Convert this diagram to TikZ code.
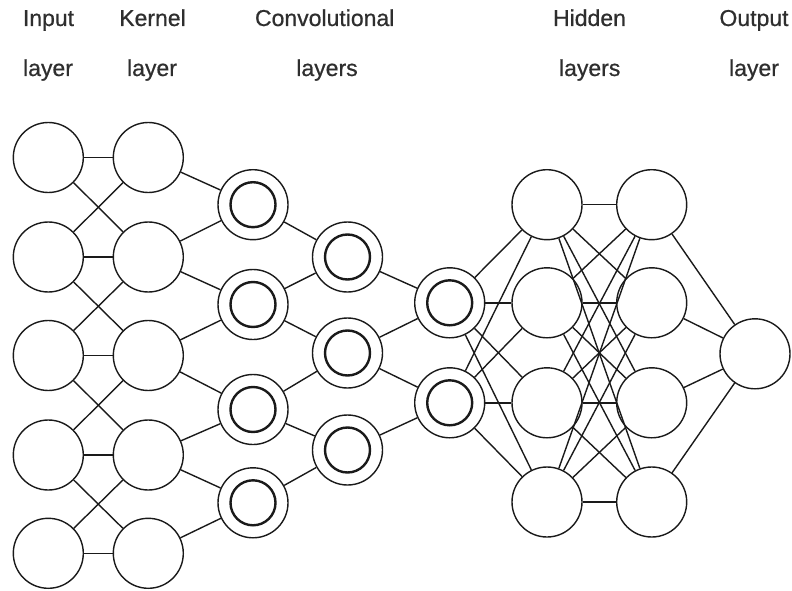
\documentclass[tikz,border=0pt]{standalone}
\usepackage{fontspec}
\setmainfont{Liberation Sans}
\newfontfamily\lblfont[FakeBold=0.7]{Liberation Sans}
\definecolor{txt}{HTML}{2E2E2E}
\definecolor{ln}{HTML}{1A1A1A}
\begin{document}
\begin{tikzpicture}[x=1pt,y=-1pt,
  neuron/.style={circle,draw=ln,line width=1.4pt,minimum size=70pt,inner sep=0pt,fill=white},
  convn/.style={neuron,path picture={\draw[ln,line width=2.4pt] (path picture bounding box.center) circle (22.5pt);}},
  lbl/.style={anchor=base,text=txt,inner sep=0pt,font=\lblfont\fontsize{23}{27}\selectfont},
  conn/.style={draw=ln,line width=1.4pt}]
\useasboundingbox (0,0) rectangle (792,591);
% labels
\node[lbl] (t1a) at (48.5,26) {Input};
\node[lbl] (t1b) at (48,76) {layer};
\node[lbl] (t2a) at (152.5,26) {Kernel};
\node[lbl] (t2b) at (152,76) {layer};
\node[lbl] (t3a) at (324.7,26) {Convolutional};
\node[lbl] (t3b) at (327,76) {layers};
\node[lbl] (t4a) at (589.5,26) {Hidden};
\node[lbl] (t4b) at (589.7,76) {layers};
\node[lbl] (t5a) at (754,26) {Output};
\node[lbl] (t5b) at (754,76) {layer};
% nodes
\foreach \i/\y in {1/157.5,2/257,3/355.5,4/455,5/553.3}{
  \node[neuron] (in\i) at (48.3,\y) {};
  \node[neuron] (k\i) at (148.3,\y) {};
}
\foreach \i/\y in {1/204.7,2/304.5,3/409.5,4/502.8}{
  \node[convn] (ca\i) at (253,\y) {};
}
\foreach \i/\y in {1/257,2/353,3/450}{
  \node[convn] (cb\i) at (347.5,\y) {};
}
\foreach \i/\y in {1/302.8,2/402.8}{
  \node[convn] (cc\i) at (449.7,\y) {};
}
\foreach \i/\y in {1/204.7,2/302.8,3/402.8,4/502}{
  \node[neuron] (ha\i) at (547,\y) {};
  \node[neuron] (hb\i) at (651.7,\y) {};
}
\node[neuron] (out) at (755,353.8) {};
% connections
\foreach \i in {1,...,5}{ \draw[conn] (in\i) -- (k\i); }
\foreach \i/\j in {1/2,2/3,3/4,4/5}{
  \draw[conn] (in\i) -- (k\j);
  \draw[conn] (in\j) -- (k\i);
}
\draw[conn] (k1) -- (ca1);
\draw[conn] (k2) -- (ca1); \draw[conn] (k2) -- (ca2);
\draw[conn] (k3) -- (ca2); \draw[conn] (k3) -- (ca3);
\draw[conn] (k4) -- (ca3); \draw[conn] (k4) -- (ca4);
\draw[conn] (k5) -- (ca4);
\draw[conn] (ca1) -- (cb1);
\draw[conn] (ca2) -- (cb1); \draw[conn] (ca2) -- (cb2);
\draw[conn] (ca3) -- (cb2); \draw[conn] (ca3) -- (cb3);
\draw[conn] (ca4) -- (cb3);
\draw[conn] (cb1) -- (cc1);
\draw[conn] (cb2) -- (cc1); \draw[conn] (cb2) -- (cc2);
\draw[conn] (cb3) -- (cc2);
\foreach \a in {1,2}{ \foreach \b in {1,...,4}{ \draw[conn] (cc\a) -- (ha\b); } }
\foreach \a in {1,...,4}{ \foreach \b in {1,...,4}{ \draw[conn] (ha\a) -- (hb\b); } }
\foreach \a in {1,...,4}{ \draw[conn] (hb\a) -- (out); }
\end{tikzpicture}
\end{document}
